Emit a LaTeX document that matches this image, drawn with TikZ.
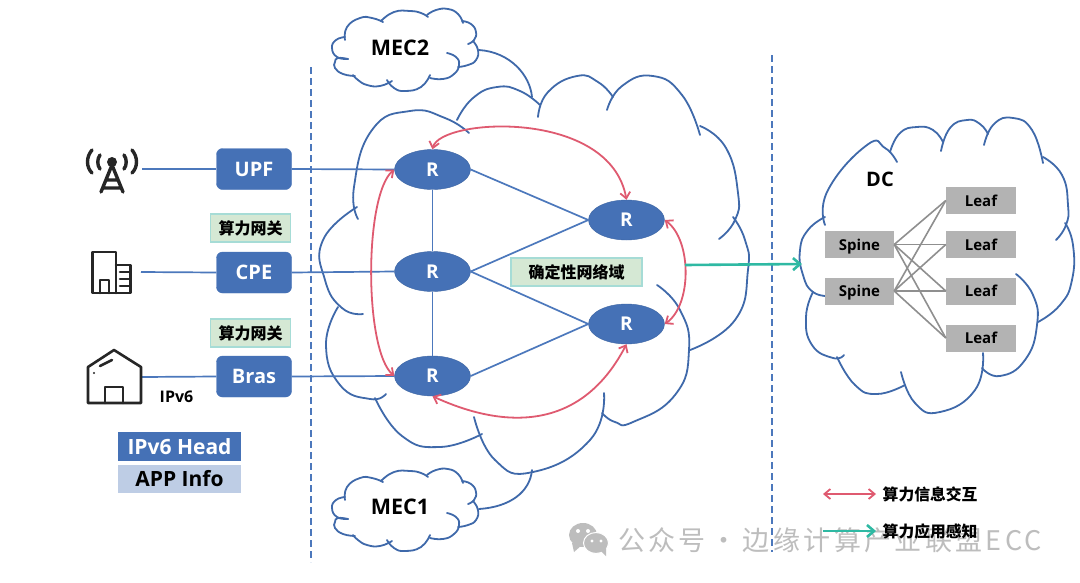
\documentclass[tikz,border=0pt]{standalone}
\usepackage{fontspec}
\usetikzlibrary{arrows.meta,shapes.geometric}
\setmainfont{Open Sans}
\newfontfamily\cjk{Noto Sans CJK SC}
\newfontfamily\wmfont[LetterSpace=12.5]{Noto Sans CJK SC}
\newcommand\fsz[1]{\fontsize{#1}{#1}\selectfont}
\newcommand\bump[1]{\draw[cloudline] plot[smooth,tension=.85] coordinates {#1};}
\definecolor{nblue}{HTML}{4571B6}
\definecolor{lblue}{HTML}{4C78BC}
\definecolor{cblue}{HTML}{3F69AA}
\definecolor{rred}{HTML}{DF5A70}
\definecolor{teal2}{HTML}{2FB9A3}
\definecolor{gfill}{HTML}{D5E8D4}
\definecolor{gedge}{HTML}{A6DCD6}
\definecolor{gbox}{HTML}{B3B3B3}
\definecolor{wm}{HTML}{BDBDBD}
\tikzset{
 cloudline/.style={draw=cblue,line width=1.8pt,line cap=round},
 blk/.style={draw=nblue,fill=nblue,text=white,rounded corners=6pt,minimum width=75pt,minimum height=41pt,inner sep=0pt,font=\bfseries\fsz{20}},
 rnode/.style={shape=ellipse,draw=nblue!90!black,fill=nblue,text=white,minimum width=76pt,minimum height=40pt,inner sep=0pt,font=\bfseries\fsz{19}},
 gw/.style={draw=gedge,fill=gfill,line width=1.3pt,inner sep=0pt,minimum width=80pt,minimum height=28pt,font=\cjk\bfseries\fsz{16}},
 graybox/.style={fill=gbox,inner sep=0pt,minimum height=27pt,text height=11pt,text depth=0pt,font=\bfseries\fsz{15}},
 lnk/.style={draw=lblue,line width=1.7pt},
 fab/.style={draw=gbox!80!black,line width=1.6pt},
 red2/.style={draw=rred,line width=1.8pt,{Straight Barb[length=6pt,width=10pt]}-{Straight Barb[length=6pt,width=10pt]}},
 tealar/.style={draw=teal2,line width=2.6pt,-{Straight Barb[length=7pt,width=12pt]}},
 dash2/.style={draw=lblue,line width=1.5pt,dash pattern=on 7pt off 4pt},
 icon/.style={draw=black!85,line width=2.6pt,line join=round,line cap=round},
 lbl/.style={inner sep=0pt,font=\bfseries\fsz{21.5}},
 smallcloud/.pic={
  \bump{(348,59)(337,57)(332,48)(336,40)(345,37)}
  \bump{(345,40)(347,27)(360,18)(372,18)(383,22)}
  \bump{(381,21)(394,12)(410,11)(421,13)(428,17)}
  \bump{(427,15)(436,10)(448,9)(458,14)(463,23)}
  \bump{(462,21)(471,24)(476,32)(474,40)(468,44)}
  \bump{(473,41)(478,50)(476,60)(468,65)(458,67)}
  \bump{(447,53)(456,57)(459,65)(454,74)(443,79)(430,78)}
  \bump{(430,75)(421,87)(405,91)(394,88)(387,80)}
  \bump{(392,81)(380,86)(367,85)(358,80)(353,75)}
  \bump{(355,76)(343,74)(335,68)(335,62)(338,58)(348,59)}
 },
}
\begin{document}
\begin{tikzpicture}[x=1pt,y=-1pt]
\useasboundingbox (0,0) rectangle (1080,582);
\fill[white] (0,0) rectangle (1080,582);

% watermark
\fill[wm] (583,535) ellipse [x radius=14,y radius=12];
\fill[wm] (572,543) -- (574,552) -- (582,545) -- cycle;
\draw[white,line width=1pt,fill=wm] (596,543) ellipse [x radius=12.5,y radius=10.5];
\fill[wm] (600,550) -- (606,556) -- (606,548) -- cycle;
\fill[white] (578,531) circle [radius=2] (588,531) circle [radius=2] (592,541) circle [radius=1.6] (601,541) circle [radius=1.6];
\node[anchor=west,inner sep=0pt,text=wm,font=\wmfont\fsz{27}] (wmtext) at (618,540) {公众号\hspace{5pt}·\hspace{5pt}边缘计算产业联盟ECC};

% dashed borders
\coordinate (d1a) at (311,67); \coordinate (d1b) at (311,562);
\coordinate (d2a) at (772,55); \coordinate (d2b) at (772,552);
\draw[dash2] (d1a) -- (d1b);
\draw[dash2] (d2a) -- (d2b);

% big cloud
\bump{(457,120)(473,98)(497,87)(520,91)(540,105)}
\bump{(538,117)(548,92)(577,76)(598,82)(613,97)}
\bump{(607,110)(622,86)(653,76)(682,95)(700,135)}
\bump{(700,126)(726,148)(738,193)(735,220)(719,239)}
\bump{(733,217)(745,240)(748,270)(735,320)(690,350)}
\bump{(657,285)(680,310)(689,350)(675,395)(633,422)(615,422)(602,413)}
\bump{(604,393)(590,440)(533,472)(495,460)(474,417)}
\bump{(482,434)(440,447)(402,436)(375,398)}
\bump{(386,394)(370,399)(340,385)(326,345)(338,307)}
\bump{(363,314)(342,308)(325,280)(323,240)(357,207)}
\bump{(358,219)(354,187)(372,130)(410,111)(445,118)(469,133)}

% MEC clouds
\pic at (0,0) {smallcloud};
\pic at (0,460) {smallcloud};
\node[lbl] (mec2) at (400,48) {MEC2};
\node[lbl] (mec1) at (400,507) {MEC1};
\coordinate (m2a) at (479,50); \coordinate (m2b) at (532,97);
\coordinate (m1a) at (479,509); \coordinate (m1b) at (532,470);
\draw[cloudline] (m2a) .. controls (510,52) and (530,75) .. (m2b);
\draw[cloudline] (m1a) .. controls (510,507) and (530,492) .. (m1b);

% DC cloud
\bump{(825,225)(828,190)(867,145)(885,148)(897,162)}
\bump{(890,152)(900,133)(917,127)(933,130)(943,142)}
\bump{(941,151)(950,128)(967,120)(980,124)(988,134)}
\bump{(984,145)(994,124)(1013,118)(1032,130)(1043,163)}
\bump{(1043,157)(1062,175)(1068,205)(1066,225)(1056,240)}
\bump{(1065,223)(1073,245)(1072,280)(1060,305)(1038,322)}
\bump{(1016,274)(1033,295)(1037,325)(1025,360)(1000,376)(982,368)}
\bump{(983,353)(975,390)(940,412)(915,403)(901,372)}
\bump{(905,385)(877,394)(855,385)(837,357)}
\bump{(844,355)(833,358)(812,345)(806,317)(813,292)}
\bump{(830,296)(813,292)(803,275)(800,250)(808,230)(825,217)}
\node[lbl,font=\bfseries\fsz{20}] (dc) at (880,179) {DC};

% routers
\node[rnode] (r1) at (432.5,169.5) {R};
\node[rnode] (r2) at (432.5,271.5) {R};
\node[rnode] (r3) at (432.5,376) {R};
\node[rnode] (ra) at (626.5,220) {R};
\node[rnode] (rb) at (626.5,324) {R};
\draw[lnk] (r1) -- (r2);
\draw[lnk] (r2) -- (r3);
\draw[lnk] (r1.east) -- (ra.west);
\draw[lnk] (r2.east) -- (ra.west);
\draw[lnk] (r2.east) -- (rb.west);
\draw[lnk] (r3.east) -- (rb.west);

\node[gw,minimum width=131pt] (dom) at (576.5,272) {确定性网络域};

% access nodes
\node[blk] (upf) at (254,169) {UPF};
\node[blk] (cpe) at (254,272.5) {CPE};
\node[blk] (bras) at (254,376.5) {Bras};
\node[gw] (gw1) at (250.5,228) {算力网关};
\node[gw] (gw2) at (250.5,333) {算力网关};
\coordinate (i1) at (142,169);
\coordinate (i2) at (141,272);
\coordinate (i3) at (142,377);
\draw[lnk] (i1) -- (upf.west);
\draw[lnk] (i2) -- (cpe.west);
\draw[lnk] (i3) -- (bras.west);
\draw[lnk] (upf.east) -- (r1.west);
\draw[lnk] (cpe.east) -- (r2.west);
\draw[lnk] (bras.east) -- (r3.west);

% red curves
\draw[red2] (r1.north) .. controls (440,118) and (610,108) .. (ra.north);
\draw[red2] (r1.west) .. controls (364,195) and (364,350) .. (r3.west);
\draw[red2] (r3.south) .. controls (480,418) and (573,447) .. (rb.south);
\draw[red2] (ra.east) .. controls (692,240) and (692,305) .. (rb.east);

% teal arrow
\coordinate (t1) at (685,265);
\coordinate (t2) at (802,264);
\draw[tealar] (t1) -- (t2);

% fabric
\node[graybox,minimum width=69pt] (s1) at (859.5,244.5) {Spine};
\node[graybox,minimum width=69pt] (s2) at (859.5,291) {Spine};
\node[graybox,minimum width=70pt] (l1) at (981,200.5) {Leaf};
\node[graybox,minimum width=70pt] (l2) at (981,244.5) {Leaf};
\node[graybox,minimum width=70pt] (l3) at (981,291) {Leaf};
\node[graybox,minimum width=70pt] (l4) at (981,338) {Leaf};
\foreach \s in {s1,s2}\foreach \l in {l1,l2,l3,l4}{\draw[fab] (\s.east) -- (\l.west);}

% tower icon
\fill[black!85] (112,162) circle [radius=5];
\draw[icon,line width=3.4pt] (112,165) -- (101,192) (112,165) -- (123,192) (106,180) -- (118,180) (103,188) -- (121,188);
\draw[icon,line width=3.4pt] (100,155) .. controls (97,159) and (97,165) .. (100,169);
\draw[icon,line width=3.4pt] (124,155) .. controls (127,159) and (127,165) .. (124,169);
\draw[icon,line width=3.4pt] (92,150) .. controls (86,157) and (86,167) .. (92,173);
\draw[icon,line width=3.4pt] (132,150) .. controls (138,157) and (138,167) .. (132,173);

% building icon
\draw[icon] (116,293) -- (92.5,293) -- (92.5,252) -- (116,252) -- (116,293);
\draw[icon] (116,265) -- (130.5,265) -- (130.5,293) -- (116,293);
\draw[icon] (100,293) -- (100,280) -- (109,280) -- (109,293);
\draw[icon] (120,272) -- (130,272) (120,279) -- (130,279) (120,286) -- (130,286);

% house icon
\draw[icon] (88,403) -- (88,367) -- (114,350) -- (141,367) -- (141,403) -- cycle;
\draw[icon] (105,403) -- (105,387) -- (123,387) -- (123,403);
\draw[icon] (100,366) -- (112,360);
\fill[black!85] (94,373) circle [radius=1.2];
\node[inner sep=0pt,font=\bfseries\fsz{16}] (v6) at (176.5,397) {IPv6};

% header stack
\node[fill=nblue,text=white,inner sep=0pt,minimum width=123pt,minimum height=29pt,font=\bfseries\fsz{21}] (h1) at (179.5,446.5) {IPv6 Head};
\node[fill=nblue!35!white,inner sep=0pt,minimum width=123pt,minimum height=28pt,font=\bfseries\fsz{21}] (h2) at (179.5,479) {APP Info};

% legend
\coordinate (la) at (823,494); \coordinate (lb) at (876,494);
\coordinate (lc) at (823,531); \coordinate (ld) at (876,531);
\draw[red2] (la) -- (lb);
\draw[tealar] (lc) -- (ld);
\node[anchor=west,inner sep=0pt,font=\cjk\bfseries\fsz{15.8}] (t1l) at (882.5,494.5) {算力信息交互};
\node[anchor=west,inner sep=0pt,font=\cjk\bfseries\fsz{15.8}] (t2l) at (882.5,531.5) {算力应用感知};
\end{tikzpicture}
\end{document}
